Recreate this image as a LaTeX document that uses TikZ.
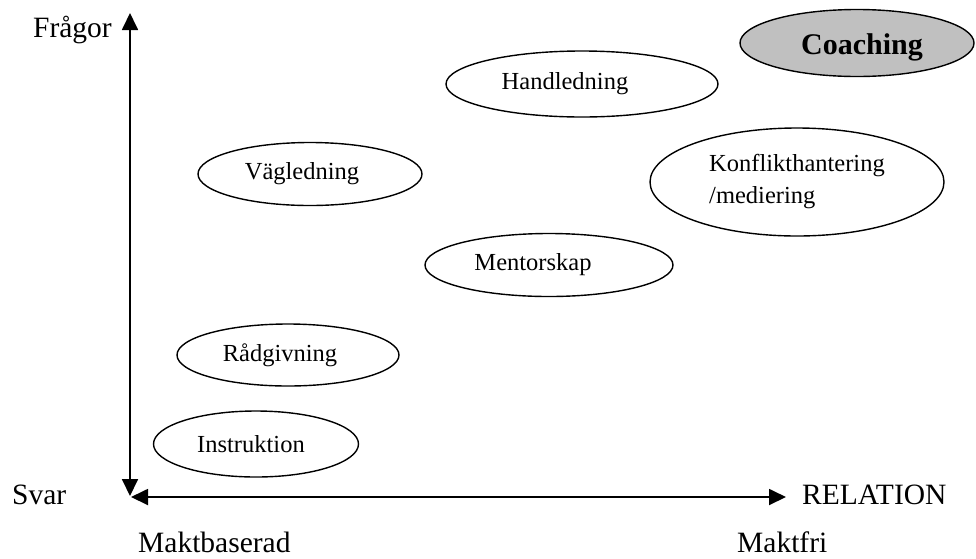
\documentclass[tikz,border=0pt]{standalone}
\usepackage{fontspec}
\setmainfont{Liberation Serif}
\usetikzlibrary{arrows.meta,shapes.geometric}

\begin{document}
\begin{tikzpicture}[%
        x=1pt, y=-1pt,
        every node/.style={inner sep=0pt, font=\fontsize{24.5}{32}\selectfont},
        oval/.style={ellipse, draw, line width=1.4pt},
        axislabel/.style={font=\fontsize{29.5}{34}\selectfont},
        >={Triangle[length=17pt,width=16pt]}
      ]
      \useasboundingbox (0,0) rectangle (976,558);
      % axes
      \coordinate (top) at (130,13);
      \coordinate (bottom) at (130,496);
      \coordinate (left) at (131,497);
      \coordinate (right) at (786,497);
      \draw [line width=1.8pt, <->] (top) -- (bottom);
      \draw [line width=1.8pt, <->] (left) -- (right);
      \node [axislabel, anchor=base east] (fragor) at (112,37) {Frågor};
      \node [axislabel, anchor=base west] (svar) at (12,504) {Svar};
      \node [axislabel, anchor=base west] (relation) at (802,504) {RELATION};
      \node [axislabel, anchor=base west] (maktbaserad) at (138,552) {Maktbaserad};
      \node [axislabel, anchor=base west] (maktfri) at (737,552) {Maktfri};
      % ellipses
      \node [oval, minimum width=205, minimum height=66,
             label={[xshift=-5]center:Instruktion}] (instruktion) at (256,444) {};
      \node [oval, minimum width=222, minimum height=62,
             label={[xshift=-8]center:Rådgivning}] (radgivning) at (288,355) {};
      \node [oval, minimum width=224, minimum height=63,
             label={[xshift=-8]center:Vägledning}] (vagledning) at (310,174) {};
      \node [oval, minimum width=248, minimum height=63,
             label={[xshift=-16]center:Mentorskap}] (mentorskap) at (549,265) {};
      \node [oval, minimum width=272, minimum height=66,
             label={[xshift=-17]center:Handledning}] (handledning) at (582,84) {};
      \node [oval, minimum width=294, minimum height=108,
             label={[align=left]center:Konflikthantering\\/mediering}] (konflikt) at (797,182) {};
      \node [oval, fill={rgb,255:red,192;green,192;blue,192}, minimum width=234, minimum height=67,
             label={[xshift=5, yshift=-4, font=\fontsize{30}{34}\selectfont\bfseries]center:Coaching}] (coaching) at (857,43) {};
\end{tikzpicture}
\end{document}
